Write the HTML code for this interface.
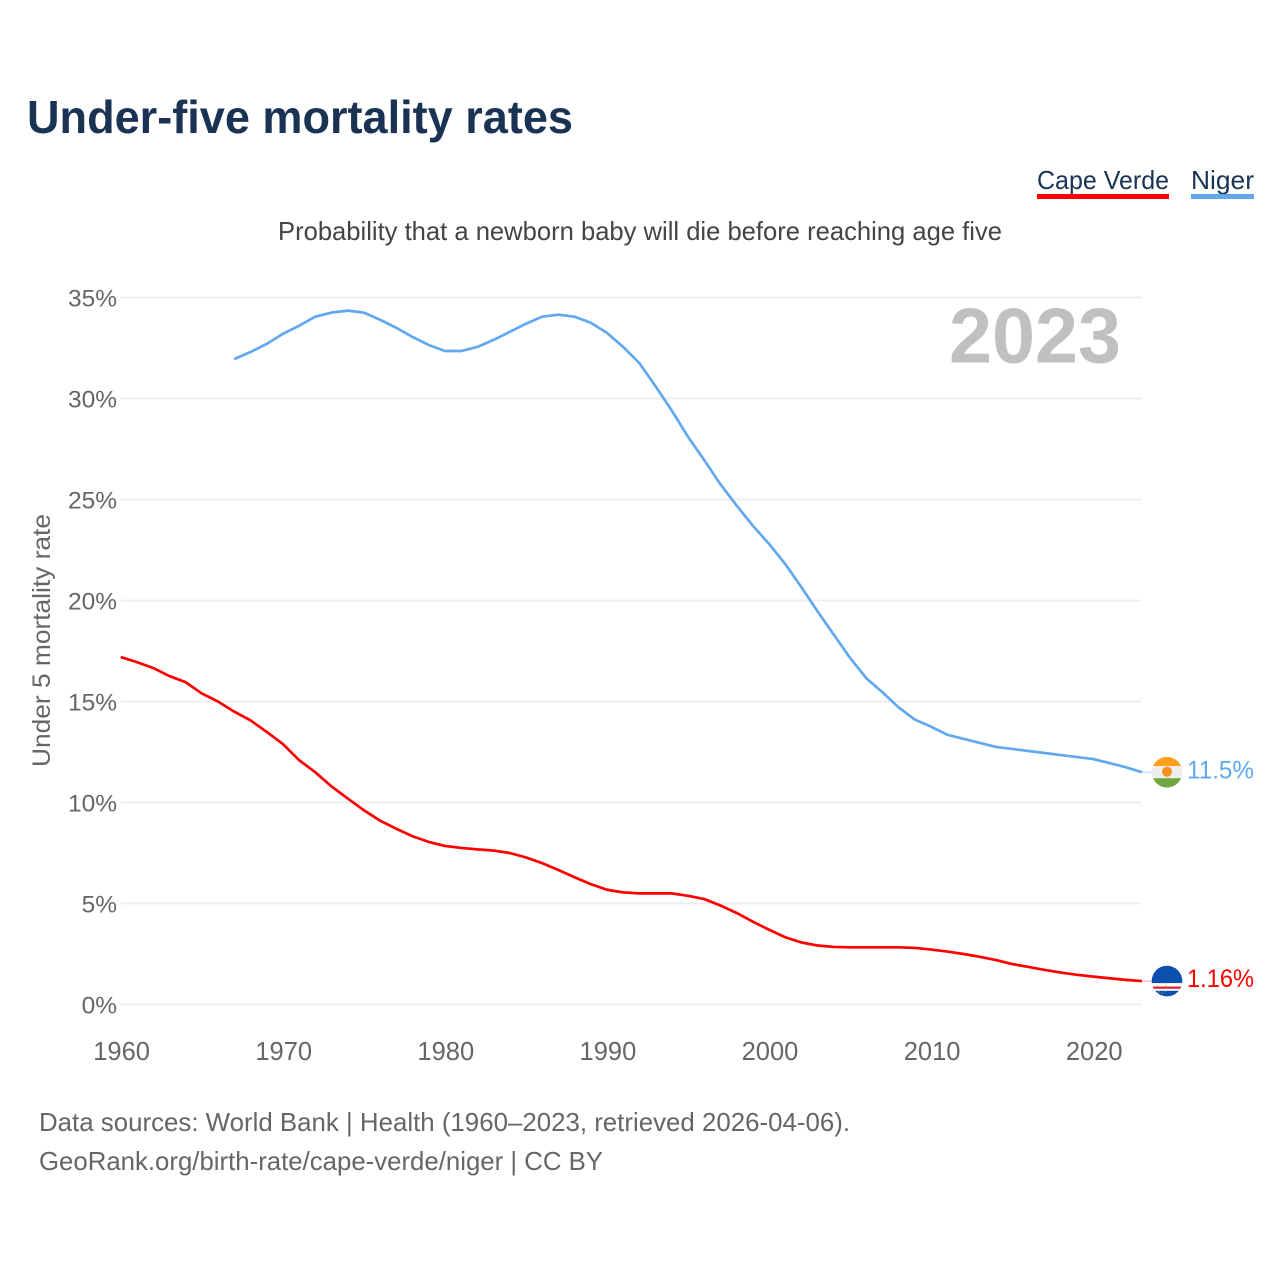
<!DOCTYPE html>
<html lang="en">
<head>
<meta charset="utf-8">
<title>Under-five mortality rates</title>
<style>
  html, body { margin: 0; padding: 0; background: #fff; }
  svg { display: block; font-family: "Liberation Sans", sans-serif; }
</style>
</head>
<body>
<svg id="chart" width="1280" height="1280" viewBox="0 0 1280 1280" xmlns="http://www.w3.org/2000/svg">
  <defs>
    <clipPath id="flag-clip-niger"><circle cx="0" cy="0" r="15.3"></circle></clipPath>
    <clipPath id="flag-clip-cape"><circle cx="0" cy="0" r="15.3"></circle></clipPath>
  </defs>
  <rect width="1280" height="1280" fill="#ffffff"></rect>
  <text x="27" y="133" font-size="46" font-weight="700" fill="#1a3354" textLength="546" lengthAdjust="spacingAndGlyphs">Under-five mortality rates</text>
  <text x="1037" y="189" font-size="26" fill="#1a3354" textLength="132" lengthAdjust="spacingAndGlyphs">Cape Verde</text>
  <rect x="1037" y="194" width="132" height="5" fill="#ff0000"></rect>
  <text x="1191" y="189" font-size="26" fill="#1a3354" textLength="63" lengthAdjust="spacingAndGlyphs">Niger</text>
  <rect x="1191" y="194" width="63" height="5" fill="#62a8ee"></rect>
  <text x="278" y="240" font-size="26" fill="#444444" textLength="724" lengthAdjust="spacingAndGlyphs">Probability that a newborn baby will die before reaching age five</text>
  <text transform="translate(50,767) rotate(-90)" font-size="25" fill="#666666" textLength="253" lengthAdjust="spacingAndGlyphs">Under 5 mortality rate</text>
  <g id="grid"></g>
  <g id="y-ticks"></g>
  <g id="x-ticks"></g>
  <text x="949" y="362.5" font-size="78" font-weight="700" fill="#c0c0c0" textLength="172" lengthAdjust="spacingAndGlyphs">2023</text>
  <g id="series"></g>
  <g id="flag-niger" clip-path="url(#flag-clip-niger)">
    <rect x="-16" y="-16" width="32" height="10" fill="#ff9f1c"></rect>
    <rect x="-16" y="-6" width="32" height="12" fill="#eeeeee"></rect>
    <rect x="-16" y="6" width="32" height="10" fill="#6fa63f"></rect>
    <circle cx="0" cy="-0.5" r="5" fill="#f5911e"></circle>
  </g>
  <g id="flag-cape" clip-path="url(#flag-clip-cape)">
    <rect x="-16" y="-16" width="32" height="32" fill="#0a50ae"></rect>
    <rect x="-16" y="2" width="32" height="7.7" fill="#ffffff"></rect>
    <rect x="-16" y="5.5" width="32" height="2.2" fill="#d8202c"></rect>
    <circle cx="-5" cy="7" r="5" fill="none" stroke="#c9b458" stroke-width="1" stroke-dasharray="1.5 2" opacity="0.7"></circle>
  </g>
  <g id="end-labels"></g>
  <text x="39" y="1131" font-size="26" fill="#666666" textLength="811" lengthAdjust="spacingAndGlyphs">Data sources: World Bank | Health (1960–2023, retrieved 2026-04-06).</text>
  <text x="39" y="1170" font-size="26" fill="#666666" textLength="564" lengthAdjust="spacingAndGlyphs">GeoRank.org/birth-rate/cape-verde/niger | CC BY</text>
</svg>
<script>
const yTickValues = [0, 5, 10, 15, 20, 25, 30, 35];
const xTickYears = [1960, 1970, 1980, 1990, 2000, 2010, 2020];
const capeVerdeStart = 1960;
const capeVerdeValues = [
  17.2, 16.95, 16.66, 16.26, 15.96, 15.4, 15.0, 14.5, 14.07, 13.5,
  12.9, 12.1, 11.5, 10.8, 10.2, 9.62, 9.1, 8.7, 8.33, 8.05,
  7.85, 7.75, 7.68, 7.62, 7.5, 7.28, 7.0, 6.66, 6.3, 5.96,
  5.68, 5.55, 5.5, 5.5, 5.5, 5.38, 5.22, 4.9, 4.53, 4.1,
  3.7, 3.33, 3.07, 2.92, 2.85, 2.83, 2.83, 2.83, 2.83, 2.8,
  2.72, 2.62, 2.5, 2.36, 2.2, 2.0, 1.86, 1.71, 1.58, 1.47,
  1.38, 1.3, 1.22, 1.16
];
const nigerStart = 1967;
const nigerValues = [
  31.95, 32.3, 32.7, 33.2, 33.6, 34.05, 34.25, 34.35, 34.25, 33.9,
  33.5, 33.05, 32.65, 32.35, 32.35, 32.55, 32.9, 33.3, 33.7, 34.05,
  34.15, 34.05, 33.75, 33.25, 32.55, 31.75, 30.6, 29.4, 28.1, 26.95,
  25.75, 24.7, 23.7, 22.8, 21.8, 20.65, 19.45, 18.3, 17.15, 16.15,
  15.45, 14.7, 14.1, 13.75, 13.35, 13.15, 12.95, 12.75, 12.65, 12.55,
  12.45, 12.35, 12.25, 12.15, 11.95, 11.75, 11.5
];
const capeVerdeEndLabel = "1.16%";
const nigerEndLabel = "11.5%";

const SVG_NS = "http://www.w3.org/2000/svg";
function xScale(year) { return 120.7 + (year - 1960) * 16.21; }
function yScale(value) { return 1004.5 - value * 20.2; }
function make(tag, attrs, parent) {
  const el = document.createElementNS(SVG_NS, tag);
  for (const key in attrs) el.setAttribute(key, attrs[key]);
  parent.appendChild(el);
  return el;
}

const gridGroup = document.getElementById("grid");
const yTickGroup = document.getElementById("y-ticks");
yTickValues.forEach(function (v) {
  const line = make("line", { x1: 120.7, x2: 1141.6, y1: yScale(v), y2: yScale(v), stroke: "#eeeeee", "stroke-width": 1.8 }, gridGroup);
  
  
  const label = make("text", { x: 117, y: yScale(v) + 9, "text-anchor": "end", "font-size": 24.5, fill: "#666666" }, yTickGroup);
  
  
  label.textContent = v + "%";
});

const xTickGroup = document.getElementById("x-ticks");
xTickYears.forEach(function (year) {
  const label = make("text", { x: xScale(year) + 0.9, y: 1060, "text-anchor": "middle", "font-size": 25.5, fill: "#666666" }, xTickGroup);
  
  
  label.textContent = year;
});

function seriesPoints(start, values) {
  return values.map(function (v, i) { return xScale(start + i).toFixed(2) + "," + yScale(v).toFixed(2); }).join(" ");
}
const seriesGroup = document.getElementById("series");
const endGroup = document.getElementById("end-labels");

const capeY = yScale(capeVerdeValues[capeVerdeValues.length - 1]);
const nigerY = yScale(nigerValues[nigerValues.length - 1]);
const lastX = xScale(capeVerdeStart + capeVerdeValues.length - 1);

const capeConnector = make("line", { x1: lastX, x2: 1153, y1: capeY, y2: capeY, stroke: "#ff0000", "stroke-width": 1, opacity: 0.35 }, seriesGroup);


const nigerConnector = make("line", { x1: lastX, x2: 1153, y1: nigerY, y2: nigerY, stroke: "#62a8ee", "stroke-width": 1, opacity: 0.5 }, seriesGroup);



const capeLine = make("polyline", { points: seriesPoints(capeVerdeStart, capeVerdeValues), fill: "none", stroke: "#ff0000", "stroke-width": 2.7, "stroke-linejoin": "round" }, seriesGroup);


const nigerLine = make("polyline", { points: seriesPoints(nigerStart, nigerValues), fill: "none", stroke: "#62a8ee", "stroke-width": 2.7, "stroke-linejoin": "round" }, seriesGroup);



document.getElementById("flag-niger").setAttribute("transform", "translate(1167," + nigerY + ")");
document.getElementById("flag-cape").setAttribute("transform", "translate(1167," + capeY + ")");

const capeLabel = make("text", { x: 1187, y: capeY + 6, "font-size": 25, fill: "#ff0000", textLength: 67, lengthAdjust: "spacingAndGlyphs" }, endGroup);


capeLabel.textContent = capeVerdeEndLabel;
const nigerLabel = make("text", { x: 1187, y: nigerY + 6.5, "font-size": 25, fill: "#62a8ee", textLength: 67, lengthAdjust: "spacingAndGlyphs" }, endGroup);


nigerLabel.textContent = nigerEndLabel;
</script>
</body>
</html>
